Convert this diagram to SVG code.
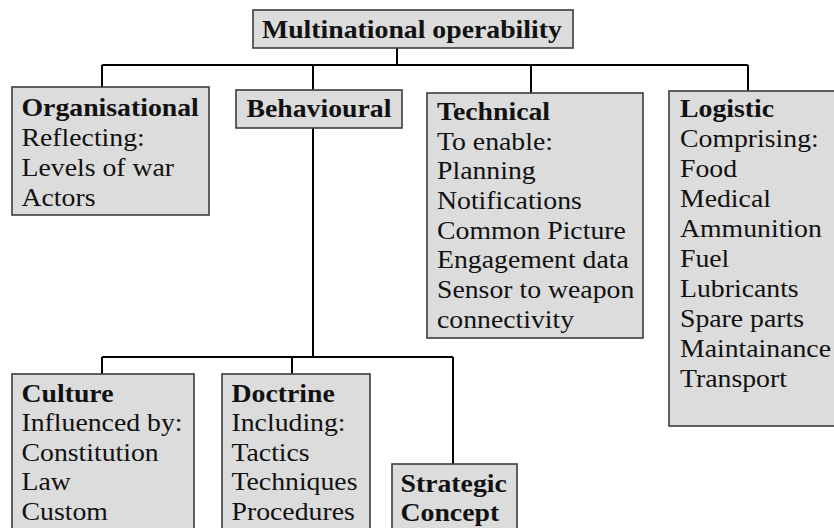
<svg xmlns="http://www.w3.org/2000/svg" width="834" height="528" viewBox="0 0 834 528">
<style>
.box{fill:#dcdcdc;stroke:#3c3c3c;stroke-width:1.6}
.ln{fill:none;stroke:#000;stroke-width:2}
.t{font-family:'Liberation Serif','DejaVu Serif',serif;font-size:25px;fill:#111}
.b{font-weight:bold}
</style>
<rect width="834" height="528" fill="#fff"/>
<g id="connectors">
<path class="ln" d="M397 48V65M102 65H748M102 65V87M313 65V90M531 65V93M748 65V91M313 128V357M102 357H453M102 357V374M292 357V374M453 357V464"/>
</g>
<g id="multinational">
<rect class="box" x="253" y="10" width="320" height="38"/>
<text class="t b" font-family="Liberation Serif, serif" transform="translate(262,38) scale(1.11 1)">Multinational operability</text>
</g>
<g id="organisational">
<rect class="box" x="12" y="87" width="197" height="128"/>
<text class="t" font-family="Liberation Serif, serif" transform="translate(21.5,116) scale(1.11 1)"><tspan class="b" x="0">Organisational</tspan><tspan x="0" dy="30">Reflecting:</tspan><tspan x="0" dy="30">Levels of war</tspan><tspan x="0" dy="30">Actors</tspan></text>
</g>
<g id="behavioural">
<rect class="box" x="236" y="90" width="166" height="38"/>
<text class="t b" font-family="Liberation Serif, serif" transform="translate(246.5,117) scale(1.11 1)">Behavioural</text>
</g>
<g id="technical">
<rect class="box" x="427" y="93" width="216" height="245"/>
<text class="t" font-family="Liberation Serif, serif" transform="translate(437,120) scale(1.11 1)"><tspan class="b" x="0">Technical</tspan><tspan x="0" dy="29.7">To enable:</tspan><tspan x="0" dy="29.7">Planning</tspan><tspan x="0" dy="29.7">Notifications</tspan><tspan x="0" dy="29.7">Common Picture</tspan><tspan x="0" dy="29.7">Engagement data</tspan><tspan x="0" dy="29.7">Sensor to weapon</tspan><tspan x="0" dy="29.7">connectivity</tspan></text>
</g>
<g id="logistic">
<rect class="box" x="669" y="91" width="170" height="335"/>
<text class="t" font-family="Liberation Serif, serif" transform="translate(680,117) scale(1.11 1)"><tspan class="b" x="0">Logistic</tspan><tspan x="0" dy="30">Comprising:</tspan><tspan x="0" dy="30">Food</tspan><tspan x="0" dy="30">Medical</tspan><tspan x="0" dy="30">Ammunition</tspan><tspan x="0" dy="30">Fuel</tspan><tspan x="0" dy="30">Lubricants</tspan><tspan x="0" dy="30">Spare parts</tspan><tspan x="0" dy="30">Maintainance</tspan><tspan x="0" dy="30">Transport</tspan></text>
</g>
<g id="culture">
<rect class="box" x="12" y="374" width="182" height="160"/>
<text class="t" font-family="Liberation Serif, serif" transform="translate(21.5,402) scale(1.11 1)"><tspan class="b" x="0">Culture</tspan><tspan x="0" dy="29.5">Influenced by:</tspan><tspan x="0" dy="29.5">Constitution</tspan><tspan x="0" dy="29.5">Law</tspan><tspan x="0" dy="29.5">Custom</tspan></text>
</g>
<g id="doctrine">
<rect class="box" x="222" y="374" width="148" height="160"/>
<text class="t" font-family="Liberation Serif, serif" transform="translate(231.5,402) scale(1.11 1)"><tspan class="b" x="0">Doctrine</tspan><tspan x="0" dy="29.5">Including:</tspan><tspan x="0" dy="29.5">Tactics</tspan><tspan x="0" dy="29.5">Techniques</tspan><tspan x="0" dy="29.5">Procedures</tspan></text>
</g>
<g id="strategic">
<rect class="box" x="392" y="464" width="125" height="70"/>
<text class="t b" font-family="Liberation Serif, serif" transform="translate(400.5,492) scale(1.11 1)"><tspan x="0">Strategic</tspan><tspan x="0" dy="29.5">Concept</tspan></text>
</g>
</svg>
